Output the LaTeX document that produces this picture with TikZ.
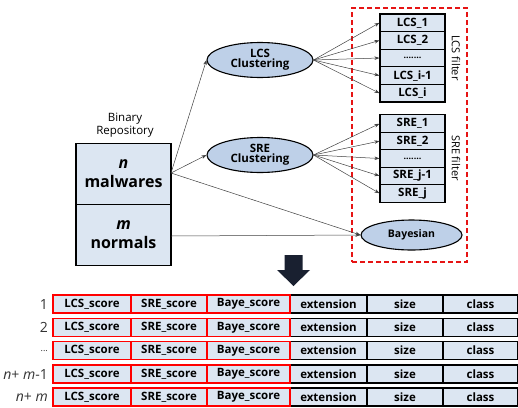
\documentclass[tikz,border=0pt]{standalone}
\usepackage{fontspec}
\setmainfont{Open Sans}
\usetikzlibrary{arrows.meta,shapes.geometric}
\definecolor{cellfill}{RGB}{220,230,242}
\definecolor{ellfill}{RGB}{190,208,232}
\definecolor{dashred}{RGB}{230,20,20}
\definecolor{arrowdark}{RGB}{25,32,48}
\begin{document}
\begin{tikzpicture}[x=1pt,y=-1pt,
  ell/.style={ellipse,draw,line width=1.1pt,fill=ellfill,font=\fontsize{11.5}{12}\selectfont\bfseries,align=center,inner sep=0pt},
  fcell/.style={rectangle,draw,line width=1.1pt,fill=cellfill,minimum width=65pt,minimum height=17.6pt,inner sep=0pt,font=\fontsize{11.5}{12}\selectfont\bfseries},
  repo/.style={rectangle,draw,line width=1.1pt,fill=cellfill,minimum width=95pt,minimum height=61pt,inner sep=0pt,align=center,font=\fontsize{16}{19}\selectfont\bfseries},
  conn/.style={draw=black!75,line width=0.5pt,-{Stealth[length=5pt,width=3.5pt]}},
  tred/.style={rectangle,draw=red,line width=1.2pt,fill=cellfill,minimum height=18pt,inner sep=0pt,font=\fontsize{11.5}{12}\selectfont\bfseries},
  tblk/.style={rectangle,draw=black,line width=1.2pt,fill=cellfill,minimum height=18pt,inner sep=0pt,font=\fontsize{11.5}{12}\selectfont\bfseries},
  rowlab/.style={anchor=east,inner sep=0pt,font=\fontsize{14}{15}\selectfont,text=black!80}
]
\useasboundingbox (0,0) rectangle (518,407);
% repository
\node[font=\fontsize{11.5}{13.5}\selectfont,align=center] (replab) at (125,125) {Binary\\Repository};
\node[repo] (mal) at (123.5,174) {\textit{n}\\malwares};
\node[repo] (nor) at (123.5,235) {\textit{m}\\normals};
% ellipses
\node[ell,minimum width=106pt,minimum height=35pt] (lcse) at (260,60) {LCS\\[-2pt]Clustering};
\node[ell,minimum width=106pt,minimum height=35pt] (sree) at (260,155) {SRE\\[-2pt]Clustering};
% dashed box
\node[draw=dashred,line width=1.3pt,minimum width=115pt,minimum height=254pt,inner sep=0pt,dash pattern=on 5pt off 3pt] (dbox) at (409.5,135) {};
% LCS stack
\node[fcell] (l1) at (412.5,22.8) {LCS\_1};
\node[fcell] (l2) at (412.5,40.4) {LCS\_2};
\node[fcell] (l3) at (412.5,58.0) {\raisebox{-2pt}{\fontsize{9}{10}\selectfont.......}};
\node[fcell] (l4) at (412.5,75.6) {LCS\_i-1};
\node[fcell] (l5) at (412.5,93.2) {LCS\_i};
% SRE stack
\node[fcell] (s1) at (412.5,123.7) {SRE\_1};
\node[fcell] (s2) at (412.5,141.1) {SRE\_2};
\node[fcell] (s3) at (412.5,158.5) {\raisebox{-2pt}{\fontsize{9}{10}\selectfont.......}};
\node[fcell] (s4) at (412.5,175.9) {SRE\_j-1};
\node[fcell] (s5) at (412.5,193.3) {SRE\_j};
\node[rotate=-90,font=\fontsize{11}{12}\selectfont] (lcsf) at (456,58) {LCS filter};
\node[rotate=-90,font=\fontsize{11}{12}\selectfont] (sref) at (456,158) {SRE filter};
% Bayesian
\node[ell,minimum width=101pt,minimum height=30pt,font=\fontsize{10.5}{11}\selectfont\bfseries] (baye) at (411.5,235) {Bayesian};
% connectors
\coordinate (malout) at (171,173);
\coordinate (norout) at (171,236);
\draw[conn] (malout) -- (lcse.west);
\draw[conn] (malout) -- (sree.west);
\draw[conn] (malout) -- (baye.west);
\draw[conn] (norout) -- (baye.west);
\foreach \c in {l1,l2,l3,l4,l5}{\draw[conn] (lcse.east) -- (\c.west);}
\foreach \c in {s1,s2,s3,s4,s5}{\draw[conn] (sree.east) -- (\c.west);}
% down arrow
\fill[arrowdark] (284.5,255) -- (302.5,255) -- (302.5,270) -- (310,270) -- (293.5,286) -- (277,270) -- (284.5,270) -- cycle;
% table
\foreach \y/\lab [count=\i] in {304/{1},327.3/{2},350.6/{\fontsize{9}{10}\selectfont...},374/{\textit{n}+ \textit{m}-1},397/{\textit{n}+ \textit{m}}}{
  \node[rowlab] (rl\i) at (48,\y) {\lab};
  \node[tblk,minimum width=77pt] (ex\i) at (328.5,\y) {extension};
  \node[tblk,minimum width=76pt] (sz\i) at (405,\y) {size};
  \node[tblk,minimum width=74pt] (cl\i) at (480.5,\y) {class};
  \node[tred,minimum width=78pt] (lc\i) at (92,\y) {LCS\_score};
  \node[tred,minimum width=76pt] (sr\i) at (169,\y) {SRE\_score};
  \node[tred,minimum width=83pt] (ba\i) at (248.5,\y) {Baye\_score};
}
\end{tikzpicture}
\end{document}
